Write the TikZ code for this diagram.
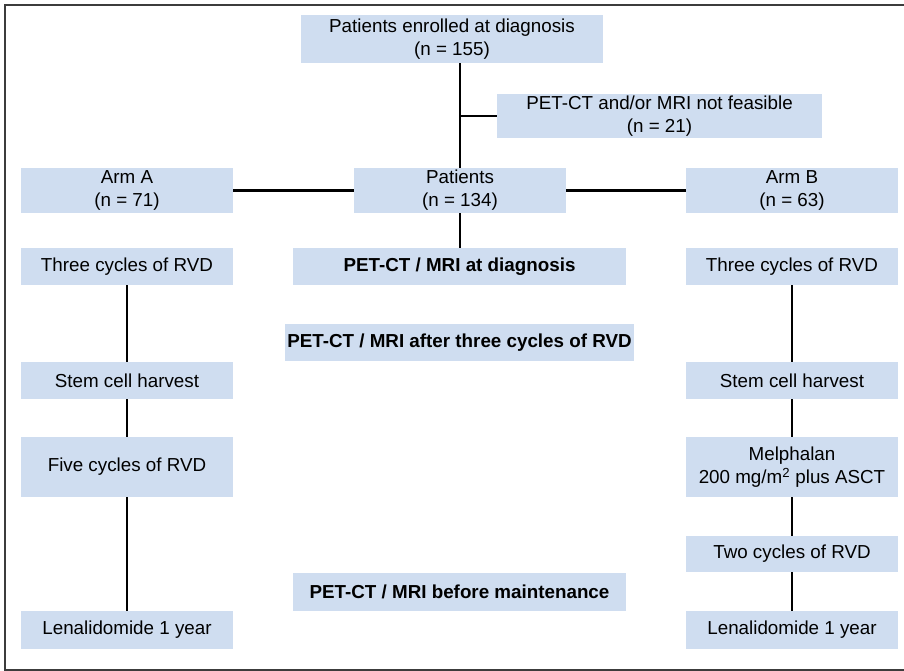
\documentclass[tikz,border=0pt]{standalone}
\usepackage{fontspec}
\setmainfont{Liberation Sans}
\definecolor{boxblue}{RGB}{207,221,240}
\definecolor{frameg}{RGB}{60,60,60}
\begin{document}
\begin{tikzpicture}[x=1pt,y=-1pt,
  box/.style={fill=boxblue, draw=none, inner sep=0pt, align=center,
    font=\fontsize{18.8}{23}\selectfont},
  bbox/.style={box, font=\fontsize{18.8}{23}\selectfont\bfseries},
  conn/.style={line width=2.2pt, black},
  frameline/.style={line width=1.3pt, frameg}]
\useasboundingbox (0,0) rectangle (904,671);
\draw[frameline] (904,5) -- (5,5) -- (5,670) -- (904,670);
% nodes
\node[box, minimum width=302pt, minimum height=48pt] (top) at (452,39) {Patients enrolled at diagnosis\\(n = 155)};
\node[box, minimum width=325pt, minimum height=44pt] (nf) at (659.5,116) {PET-CT and/or MRI not feasible\\(n = 21)};
\node[box, minimum width=212pt, minimum height=45pt] (pat) at (460,190.5) {Patients\\(n = 134)};
\node[box, minimum width=212pt, minimum height=45pt] (arma) at (127,190.5) {Arm A\\(n = 71)};
\node[box, minimum width=212pt, minimum height=45pt] (armb) at (792,190.5) {Arm B\\(n = 63)};
\node[box, minimum width=212pt, minimum height=37pt] (threea) at (127,266.5) {Three cycles of RVD};
\node[bbox, minimum width=333pt, minimum height=37pt] (petdiag) at (459.5,266.5) {PET-CT / MRI at diagnosis};
\node[box, minimum width=212pt, minimum height=37pt] (threeb) at (792,266.5) {Three cycles of RVD};
\node[bbox, minimum width=349pt, minimum height=37pt] (petthree) at (459.5,342.5) {PET-CT / MRI after three cycles of RVD};
\node[box, minimum width=212pt, minimum height=37pt] (stema) at (127,380.5) {Stem cell harvest};
\node[box, minimum width=212pt, minimum height=37pt] (stemb) at (792,380.5) {Stem cell harvest};
\node[box, minimum width=212pt, minimum height=60pt] (fivea) at (127,467) {Five cycles of RVD};
\node[box, minimum width=212pt, minimum height=60pt] (melph) at (792,467) {Melphalan\\200 mg/m\textsuperscript{2} plus ASCT};
\node[box, minimum width=212pt, minimum height=36pt] (twob) at (792,554) {Two cycles of RVD};
\node[bbox, minimum width=333pt, minimum height=38pt] (petmaint) at (459.5,592) {PET-CT / MRI before maintenance};
\node[box, minimum width=212pt, minimum height=38pt] (lena) at (127,630) {Lenalidomide 1 year};
\node[box, minimum width=212pt, minimum height=38pt] (lenb) at (792,630) {Lenalidomide 1 year};
% connectors
\draw[conn] (top.south -| pat.north) -- (pat.north);
\draw[conn] (nf.west -| pat.north) -- (nf.west);
\draw[conn] (arma.east) -- (pat.west);
\draw[conn] (pat.east) -- (armb.west);
\draw[conn] (pat.south) -- (pat.south |- petdiag.north);
\draw[conn] (threea.south) -- (stema.north);
\draw[conn] (stema.south) -- (fivea.north);
\draw[conn] (fivea.south) -- (lena.north);
\draw[conn] (threeb.south) -- (stemb.north);
\draw[conn] (stemb.south) -- (melph.north);
\draw[conn] (melph.south) -- (twob.north);
\draw[conn] (twob.south) -- (lenb.north);
\end{tikzpicture}
\end{document}
